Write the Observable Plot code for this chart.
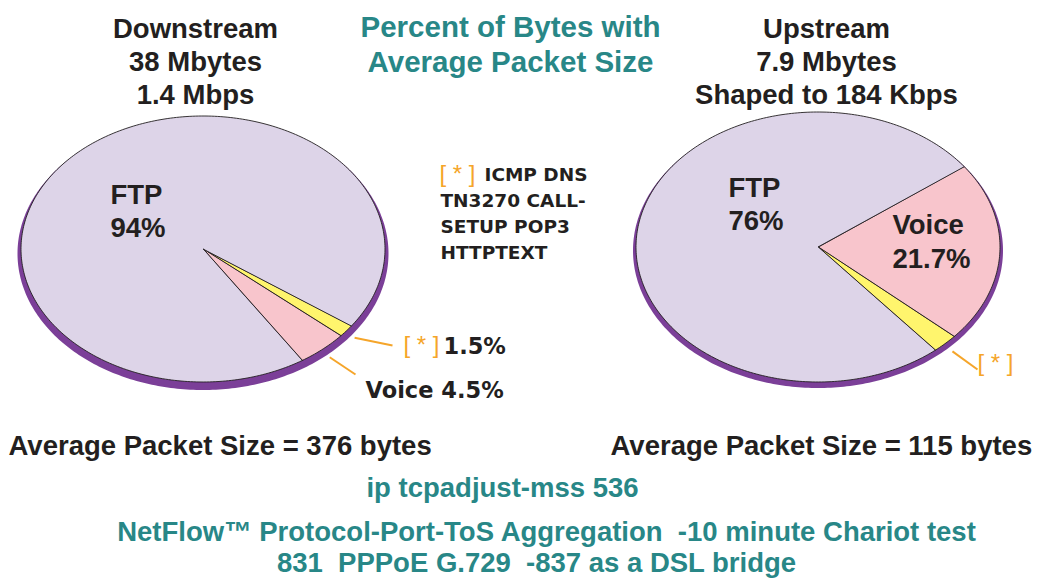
<!DOCTYPE html>
<html><head><meta charset="utf-8">
<script src="https://cdn.jsdelivr.net/npm/d3@7"></script>
<script src="https://cdn.jsdelivr.net/npm/@observablehq/plot@0.6"></script>
<style>
body{margin:0;background:#fff;}
svg text{white-space:pre;}
</style></head><body><div id="chart"></div>
<script>
// ---- data ----
const categories = ["FTP", "Voice", "Other"];
const downstreamValues = [94, 4.5, 1.5];
const upstreamValues = [76, 21.7, 2.3];
const sliceColors = ["#ddd4e8", "#f8c5cc", "#fff56d"];
const titleLines = ["Percent of Bytes with", "Average Packet Size"];
const downstreamHeader = ["Downstream", "38 Mbytes", "1.4 Mbps"];
const upstreamHeader = ["Upstream", "7.9 Mbytes", "Shaped to 184 Kbps"];
const legendLines = ["ICMP DNS", "TN3270 CALL-", "SETUP POP3", "HTTPTEXT"];
const otherMarker = "[ * ]";
const avgSizeLabels = ["Average Packet Size = 376 bytes", "Average Packet Size = 115 bytes"];
const footerLines = ["ip tcpadjust-mss 536", "NetFlow™ Protocol-Port-ToS Aggregation  -10 minute Chariot test", "831  PPPoE G.729  -837 as a DSL bridge"];

// ---- layout ----
const W = 1037, H = 578;
const ink = "#231f20", teal = "#288787", orange = "#f5a52a", rimColor = "#7b3f98";
const bold = "Liberation Sans, Arial, Helvetica, sans-serif";
const wide = "DejaVu Sans, Verdana, sans-serif";
const pies = [
  {name: "Downstream", values: downstreamValues, order: ["Other", "Voice", "FTP"], start: 35.4,
   cx: 203, cy: 249, rx: 182, ry: 133, rim: {cx: 203, cy: 253.5, rx: 185.5, ry: 136.5}},
  {name: "Upstream", values: upstreamValues, order: ["Voice", "Other", "FTP"], start: -36.5,
   cx: 818, cy: 247, rx: 182, ry: 135, rim: {cx: 818, cy: 250.5, rx: 185, ry: 137.5}}
];
const rad = Math.PI / 180;
const sliceRows = [], rimRows = [], mids = {};
for (const p of pies) {
  for (let i = 0; i <= 360; i++) {
    const t = i * rad;
    rimRows.push({pie: p.name, x: p.rim.cx + p.rim.rx * Math.cos(t), y: p.rim.cy + p.rim.ry * Math.sin(t), x0: p.rim.cx, y0: p.rim.cy});
  }
  const total = d3.sum(p.values);
  let a = p.start * rad;
  for (const cat of p.order) {
    const v = p.values[categories.indexOf(cat)];
    const a1 = a + v / total * 2 * Math.PI;
    const n = Math.max(2, Math.ceil((a1 - a) / rad));
    for (let i = 0; i <= n; i++) {
      const t = a + (a1 - a) * i / n;
      sliceRows.push({key: p.name + cat, cat, x: p.cx + p.rx * Math.cos(t), y: p.cy + p.ry * Math.sin(t), x0: p.cx, y0: p.cy});
    }
    mids[p.name + cat] = {p, t: (a + a1) / 2};
    a = a1;
  }
}
function rimPoint(key, off) {
  const {p, t} = mids[key];
  return [p.cx + (p.rx + off) * Math.cos(t), p.cy + (p.ry + off) * Math.sin(t)];
}
const leaders = [
  {from: rimPoint("DownstreamOther", 10), to: [392, 345]},
  {from: rimPoint("DownstreamVoice", 10), to: [355, 374]},
  {from: rimPoint("UpstreamOther", 10), to: [977, 369]}
];

function txt(rows, opts) {
  return Plot.text(rows, {x: "x", y: "y", text: "t", lineAnchor: "bottom", ...opts});
}

const chart = Plot.plot({
  width: W, height: H, margin: 0,
  style: {background: "#fff", whiteSpace: "pre"},
  x: {domain: [0, W], range: [0, W], axis: null},
  y: {domain: [0, H], range: [0, H], axis: null},
  color: {domain: categories, range: sliceColors},
  marks: [
    Plot.area(rimRows, {x1: "x", y1: "y", x2: "x0", y2: "y0", z: "pie", fill: rimColor}),
    Plot.area(sliceRows, {x1: "x", y1: "y", x2: "x0", y2: "y0", z: "key", fill: "cat", stroke: ink, strokeWidth: 0.9, strokeLinejoin: "round"}),
    Plot.link(leaders, {x1: d => d.from[0], y1: d => d.from[1], x2: d => d.to[0], y2: d => d.to[1], stroke: orange, strokeWidth: 2}),
    // title
    txt(titleLines.map((t, i) => ({t, x: 510, y: 36 + i * 35})), {fill: teal, fontSize: 29.5, fontWeight: "bold", fontFamily: bold}),
    // headers
    txt(downstreamHeader.map((t, i) => ({t, x: 195, y: 37 + i * 33})), {fill: ink, fontSize: 27.5, fontWeight: "bold", fontFamily: bold}),
    txt(upstreamHeader.map((t, i) => ({t, x: 826, y: 37 + i * 33})), {fill: ink, fontSize: 27.5, fontWeight: "bold", fontFamily: bold}),
    // in-slice labels
    txt([
      {t: "FTP", x: 110, y: 203}, {t: d3.format(".0f")(downstreamValues[0]) + "%", x: 110, y: 236},
      {t: "FTP", x: 728, y: 196}, {t: d3.format(".0f")(upstreamValues[0]) + "%", x: 728, y: 229},
      {t: "Voice", x: 892, y: 233}, {t: d3.format(".1f")(upstreamValues[1]) + "%", x: 892, y: 267}
    ], {fill: ink, fontSize: 27.5, fontWeight: "bold", fontFamily: bold, textAnchor: "start"}),
    // leader labels
    txt([
      {t: d3.format(".1f")(downstreamValues[2]) + "%", x: 443, y: 353},
      {t: "Voice " + d3.format(".1f")(downstreamValues[1]) + "%", x: 365, y: 397}
    ], {fill: ink, fontSize: 22.5, fontWeight: "bold", fontFamily: wide, textAnchor: "start"}),
    txt([{t: otherMarker, x: 403, y: 352}, {t: otherMarker, x: 977, y: 370}, {t: otherMarker, x: 439, y: 181}],
      {fill: orange, fontSize: 24, fontFamily: bold, textAnchor: "start"}),
    // legend
    txt(legendLines.map((t, i) => ({t, x: i === 0 ? 484 : 440, y: 180 + i * 26})),
      {fill: ink, fontSize: 18.5, fontWeight: "bold", fontFamily: wide, textAnchor: "start"}),
    // average packet size
    txt([{t: avgSizeLabels[0], x: 8, y: 454}, {t: avgSizeLabels[1], x: 610, y: 454}],
      {fill: ink, fontSize: 27.5, fontWeight: "bold", fontFamily: bold, textAnchor: "start"}),
    // footer
    txt([{t: footerLines[0], x: 502, y: 496}, {t: footerLines[1], x: 546, y: 540}, {t: footerLines[2], x: 536, y: 571}],
      {fill: teal, fontSize: 27.5, fontWeight: "bold", fontFamily: bold})
  ]
});
document.getElementById("chart").appendChild(chart);
</script></body></html>
